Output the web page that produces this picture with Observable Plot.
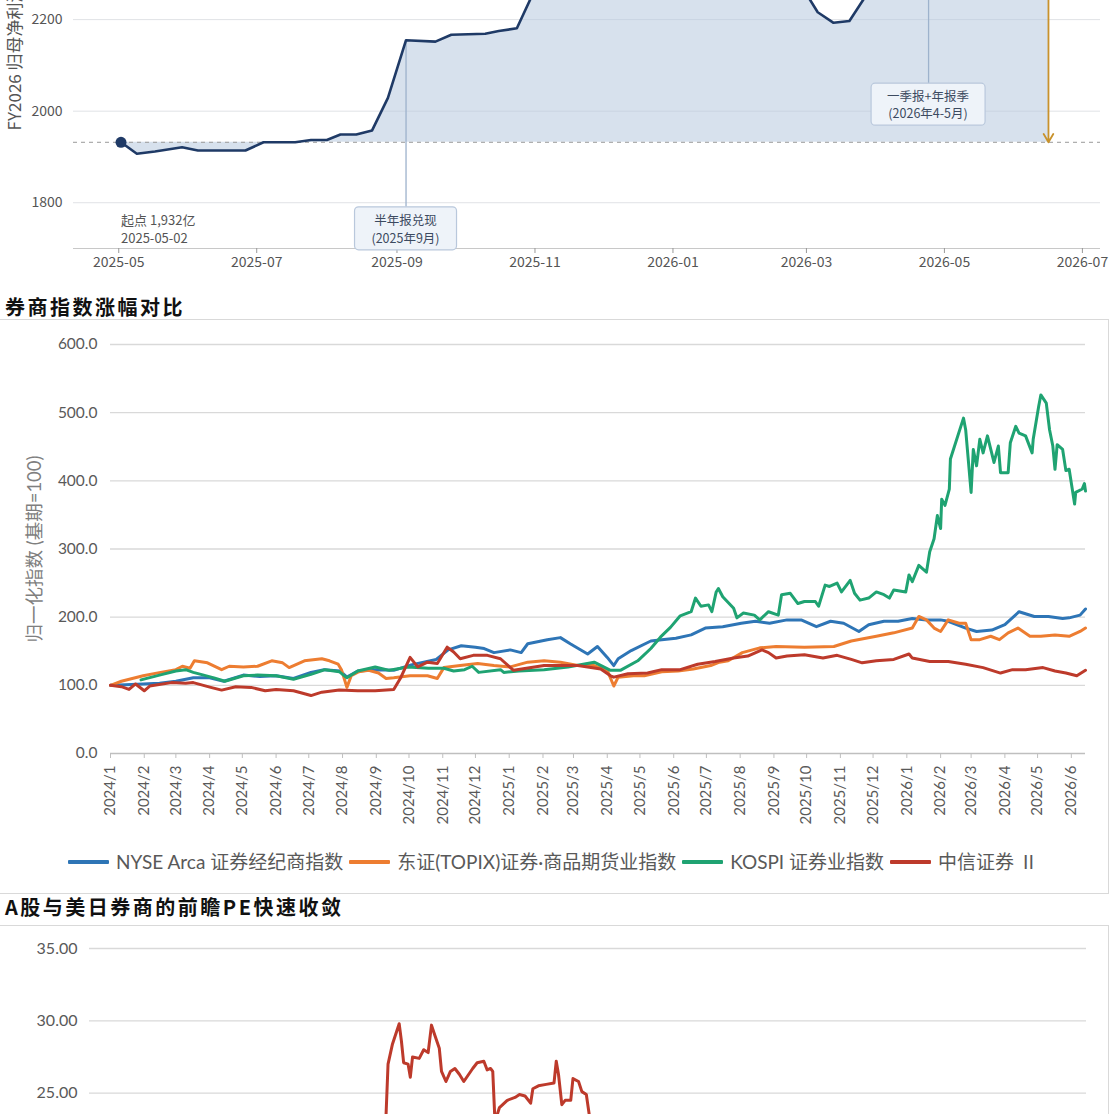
<!DOCTYPE html>
<html><head><meta charset="utf-8">
<script src="https://cdn.jsdelivr.net/npm/d3@7"></script>
<script src="https://cdn.jsdelivr.net/npm/@observablehq/plot@0.6"></script>
<style>
html,body{margin:0;padding:0;background:#fff;}
#root{position:relative;width:1114px;height:1114px;overflow:hidden;background:#fff;}
.title{position:absolute;left:5px;font-family:"Noto Sans CJK SC",sans-serif;font-weight:700;font-size:20px;letter-spacing:2.5px;color:#111;line-height:1;white-space:nowrap;}
.box{position:absolute;border:1.5px solid #d9d9d9;box-sizing:border-box;}
</style></head>
<body><div id="root"></div>
<script>
// ---------- Chart 1: FY2026 归母净利润一致预期 ----------
const fyDates = ["2025-05-02","2025-05-09","2025-05-17","2025-05-29","2025-06-05","2025-06-26","2025-07-04","2025-07-18","2025-07-25","2025-08-01","2025-08-07","2025-08-14","2025-08-21","2025-08-28","2025-09-05","2025-09-18","2025-09-25","2025-10-10","2025-10-16","2025-10-24","2025-10-30","2025-11-06","2025-11-13","2025-11-20","2025-11-27","2025-12-04","2025-12-11","2025-12-18","2025-12-25","2026-01-01","2026-01-08","2026-01-15","2026-01-22","2026-01-29","2026-02-05","2026-02-12","2026-02-19","2026-02-27","2026-03-06","2026-03-13","2026-03-20","2026-03-27","2026-04-03","2026-04-10","2026-04-17","2026-04-24","2026-05-01","2026-05-08","2026-05-15","2026-05-22","2026-05-29","2026-06-05","2026-06-12","2026-06-16"];
const fyValues = [1932,1907,1912,1921,1914,1914,1932,1932,1937,1937,1949,1949,1958,2029,2155,2152,2167,2169,2175,2181,2245,2295,2320,2335,2340,2345,2350,2352,2355,2358,2362,2365,2368,2370,2368,2360,2345,2272,2216,2193,2197,2250,2292,2330,2360,2380,2400,2415,2425,2432,2438,2442,2446,2450];
const fyBase = 1932;
const fyYTicks = [1800, 2000, 2200];
const fyXTicks = ["2025-05-01","2025-07-01","2025-09-01","2025-11-01","2026-01-01","2026-03-01","2026-05-01","2026-07-01"];
const fyEventDates = ["2025-09-05","2026-04-24"];
const fyEventLabels = [["半年报兑现","(2025年9月)"],["一季报+年报季","(2026年4-5月)"]];
const fyAxisLabel = "FY2026 归母净利润一致预期（亿元）";

// ---------- Chart 2: 券商指数涨幅对比 ----------
const brokerNames = ["NYSE Arca 证券经纪商指数","东证(TOPIX)证券·商品期货业指数","KOSPI 证券业指数","中信证券 Ⅱ"];
const brokerColors = ["#2e75b6","#ed7d31","#1fa372","#bd3a2b"];
const nyseArca = [["2024-01-01",100],["2024-01-15",101],["2024-01-31",102],["2024-02-15",103],["2024-03-01",106],["2024-03-17",111],["2024-04-01",111],["2024-04-14",106],["2024-05-02",115],["2024-05-17",113],["2024-06-01",114],["2024-06-17",110],["2024-07-03",119],["2024-07-15",123],["2024-07-30",121],["2024-08-05",112],["2024-08-15",121],["2024-09-01",123],["2024-09-17",122],["2024-10-03",130],["2024-10-26",138],["2024-11-06",152],["2024-11-18",158],["2024-12-01",156],["2024-12-09",154],["2024-12-18",148],["2025-01-02",152],["2025-01-12",148],["2025-01-18",161],["2025-02-05",167],["2025-02-17",170],["2025-02-26",161],["2025-03-14",146],["2025-03-23",157],["2025-04-01",141],["2025-04-07",129],["2025-04-11",139],["2025-04-23",151],["2025-05-11",165],["2025-05-21",167],["2025-06-03",169],["2025-06-17",174],["2025-06-30",184],["2025-07-16",186],["2025-08-02",191],["2025-08-15",194],["2025-08-28",191],["2025-09-13",196],["2025-09-26",196],["2025-10-10",186],["2025-10-23",194],["2025-11-04",191],["2025-11-18",179],["2025-11-27",189],["2025-12-11",194],["2025-12-24",194],["2026-01-06",198],["2026-01-19",196],["2026-02-01",196],["2026-02-08",194],["2026-02-24",184],["2026-03-06",179],["2026-03-20",181],["2026-04-01",189],["2026-04-14",208],["2026-04-28",201],["2026-05-11",201],["2026-05-24",198],["2026-05-30",199],["2026-06-09",203],["2026-06-14",212]];
const topixSec = [["2024-01-01",100],["2024-01-11",106],["2024-01-31",114],["2024-02-16",119],["2024-03-01",123],["2024-03-07",128],["2024-03-14",125],["2024-03-18",136],["2024-03-30",133],["2024-04-12",123],["2024-04-19",128],["2024-05-02",127],["2024-05-15",128],["2024-05-28",136],["2024-06-07",133],["2024-06-13",126],["2024-06-27",136],["2024-07-13",139],["2024-07-20",136],["2024-07-28",131],["2024-07-31",123],["2024-08-05",97],["2024-08-09",114],["2024-08-16",120],["2024-08-25",122],["2024-09-03",118],["2024-09-10",110],["2024-09-17",111],["2024-10-02",114],["2024-10-18",114],["2024-10-27",110],["2024-11-02",126],["2024-11-17",129],["2024-12-03",132],["2024-12-18",129],["2025-01-02",127],["2025-01-18",134],["2025-02-02",136],["2025-02-17",134],["2025-03-05",129],["2025-03-20",129],["2025-04-01",122],["2025-04-07",99],["2025-04-11",112],["2025-04-25",114],["2025-05-05",114],["2025-05-21",120],["2025-06-05",121],["2025-06-19",124],["2025-07-05",129],["2025-07-13",134],["2025-07-21",136],["2025-08-03",148],["2025-08-19",155],["2025-09-03",157],["2025-09-29",156],["2025-10-26",157],["2025-11-11",165],["2025-12-04",172],["2025-12-20",177],["2026-01-06",184],["2026-01-12",201],["2026-01-19",196],["2026-01-26",184],["2026-02-01",179],["2026-02-08",196],["2026-02-18",191],["2026-02-24",191],["2026-03-01",167],["2026-03-09",167],["2026-03-19",172],["2026-03-27",167],["2026-04-04",177],["2026-04-13",184],["2026-04-24",172],["2026-05-04",172],["2026-05-17",174],["2026-05-30",172],["2026-06-09",179],["2026-06-14",184]];
const kospiSec = [["2024-01-29",108],["2024-02-15",115],["2024-03-01",121],["2024-03-10",123],["2024-03-17",119],["2024-04-05",111],["2024-04-15",106],["2024-05-02",114],["2024-05-15",115],["2024-06-01",114],["2024-06-17",109],["2024-07-03",116],["2024-07-16",123],["2024-07-29",120],["2024-08-05",111],["2024-08-15",121],["2024-08-31",127],["2024-09-13",122],["2024-09-30",127],["2024-10-19",125],["2024-11-02",125],["2024-11-11",121],["2024-11-21",123],["2024-11-28",128],["2024-12-04",119],["2024-12-24",123],["2024-12-27",119],["2025-01-10",121],["2025-02-02",123],["2025-02-24",127],["2025-03-20",134],["2025-04-04",122],["2025-04-13",122],["2025-04-29",136],["2025-05-11",154],["2025-05-20",171],["2025-05-29",185],["2025-06-07",202],["2025-06-17",208],["2025-06-21",228],["2025-06-26",216],["2025-07-03",218],["2025-07-06",208],["2025-07-10",237],["2025-07-12",242],["2025-07-16",230],["2025-07-26",213],["2025-07-29",199],["2025-08-04",206],["2025-08-14",203],["2025-08-19",196],["2025-08-27",208],["2025-09-05",203],["2025-09-08",233],["2025-09-16",235],["2025-09-23",220],["2025-09-29",223],["2025-10-09",223],["2025-10-12",216],["2025-10-18",247],["2025-10-22",245],["2025-10-29",250],["2025-11-02",237],["2025-11-10",254],["2025-11-14",235],["2025-11-19",225],["2025-11-27",228],["2025-12-04",237],["2025-12-11",233],["2025-12-16",228],["2025-12-20",240],["2025-12-31",237],["2026-01-03",262],["2026-01-06",252],["2026-01-12",276],["2026-01-19",266],["2026-01-22",296],["2026-01-26",315],["2026-01-29",349],["2026-02-01",330],["2026-02-02",373],["2026-02-05",364],["2026-02-09",388],["2026-02-10",432],["2026-02-22",492],["2026-02-24",475],["2026-03-01",383],["2026-03-03",446],["2026-03-06",422],["2026-03-09",461],["2026-03-12",441],["2026-03-16",466],["2026-03-22",427],["2026-03-26",451],["2026-03-28",412],["2026-04-04",412],["2026-04-06",456],["2026-04-11",480],["2026-04-14",470],["2026-04-20",466],["2026-04-26",441],["2026-04-27",461],["2026-05-02",509],["2026-05-04",526],["2026-05-09",514],["2026-05-12",475],["2026-05-15",451],["2026-05-17",417],["2026-05-19",453],["2026-05-24",446],["2026-05-27",415],["2026-05-30",417],["2026-06-04",366],["2026-06-05",383],["2026-06-11",388],["2026-06-13",396],["2026-06-14",385]];
const citicSec = [["2024-01-01",100],["2024-01-11",98],["2024-01-18",94],["2024-01-24",102],["2024-02-01",92],["2024-02-06",99],["2024-02-26",104],["2024-03-10",103],["2024-03-17",104],["2024-04-02",97],["2024-04-12",93],["2024-04-25",98],["2024-05-09",97],["2024-05-22",92],["2024-06-01",94],["2024-06-17",92],["2024-07-03",85],["2024-07-13",90],["2024-07-29",93],["2024-08-15",92],["2024-08-31",92],["2024-09-17",94],["2024-09-23",110],["2024-10-02",141],["2024-10-09",127],["2024-10-18",134],["2024-10-27",132],["2024-11-05",156],["2024-11-11",149],["2024-11-17",139],["2024-11-29",144],["2024-12-12",144],["2024-12-24",139],["2025-01-05",122],["2025-02-02",129],["2025-03-05",129],["2025-03-26",124],["2025-04-04",114],["2025-04-07",112],["2025-04-20",117],["2025-05-08",118],["2025-05-21",123],["2025-06-07",123],["2025-06-23",131],["2025-07-09",135],["2025-07-26",140],["2025-08-08",143],["2025-08-21",152],["2025-08-27",148],["2025-09-03",140],["2025-09-13",143],["2025-09-29",145],["2025-10-16",140],["2025-10-29",144],["2025-11-11",138],["2025-11-21",133],["2025-12-04",136],["2025-12-20",138],["2026-01-03",146],["2026-01-06",140],["2026-01-22",135],["2026-02-08",135],["2026-02-24",131],["2026-03-12",126],["2026-03-28",118],["2026-04-08",123],["2026-04-20",123],["2026-05-06",126],["2026-05-17",121],["2026-05-27",118],["2026-06-06",114],["2026-06-14",122]];
const brokerYTicks = [0,100,200,300,400,500,600];
const brokerAxisLabel = "归一化指数 (基期=100)";

// ---------- Chart 3: A股与美日券商的前瞻PE ----------
const aSharePE = [["2024-01-02",17.5],["2024-03-01",18.2],["2024-05-06",17.6],["2024-07-01",16.8],["2024-09-13",15.9],["2024-09-20",17.2],["2024-09-25",27.0],["2024-09-29",28.4],["2024-10-05",29.8],["2024-10-07",28.6],["2024-10-09",27.1],["2024-10-13",27.0],["2024-10-15",26.1],["2024-10-17",27.5],["2024-10-23",27.4],["2024-10-27",28.0],["2024-10-31",27.8],["2024-11-03",29.7],["2024-11-06",29.0],["2024-11-10",28.1],["2024-11-12",26.5],["2024-11-16",25.8],["2024-11-20",26.5],["2024-11-24",26.7],["2024-11-28",26.3],["2024-12-02",25.8],["2024-12-10",26.7],["2024-12-14",27.1],["2024-12-20",27.2],["2024-12-23",26.6],["2024-12-26",26.7],["2024-12-28",26.5],["2024-12-30",23.0],["2025-01-03",24.0],["2025-01-10",24.5],["2025-01-17",24.7],["2025-01-21",24.9],["2025-01-26",24.8],["2025-01-31",24.3],["2025-02-02",25.3],["2025-02-07",25.5],["2025-02-14",25.6],["2025-02-21",25.7],["2025-02-23",27.2],["2025-02-25",26.3],["2025-02-28",24.2],["2025-03-03",24.5],["2025-03-08",24.5],["2025-03-10",26.0],["2025-03-15",25.8],["2025-03-18",25.1],["2025-03-22",24.9],["2025-03-25",23.3],["2025-03-30",21.0],["2025-05-06",20.2],["2025-07-01",21.0],["2025-09-01",22.0],["2025-12-01",19.5],["2026-03-02",17.8],["2026-06-12",16.5]];
const peYTicks = [25,30,35];

const root = document.getElementById("root");
function place(el, left, top) { el.style.position = "absolute"; el.style.left = left + "px"; el.style.top = top + "px"; root.appendChild(el); return el; }
function addDiv(cls, text, left, top, extra) { const d = document.createElement("div"); d.className = cls; if (text) d.textContent = text; Object.assign(d.style, extra || {}); return place(d, left, top); }

// ===== Chart 1 =====
const fyData = fyDates.map((d, i) => ({date: new Date(d), value: fyValues[i]}));
const fyLast = fyData[fyData.length - 1];
const valueAt = (ds) => { const t = +new Date(ds); return fyData.reduce((a, b) => Math.abs(+b.date - t) < Math.abs(+a.date - t) ? b : a).value; };
const navy = "#1f3a66";
const c1 = Plot.plot({
  width: 1114, height: 460, marginTop: 10, marginRight: 14, marginBottom: 38, marginLeft: 73,
  style: {fontFamily: '"Noto Sans CJK SC", sans-serif', fontSize: "14px", color: "#555", background: "none", overflow: "visible"},
  x: {type: "utc", domain: [new Date("2025-04-11"), new Date("2026-07-09")], label: null},
  y: {domain: [1700, 2600], label: null},
  marks: [
    Plot.gridY(fyYTicks, {stroke: "#e0e2e6", strokeOpacity: 1}),
    Plot.areaY(fyData, {x: "date", y1: fyBase, y2: "value", fill: "#b7c8de", fillOpacity: 0.55}),
    Plot.ruleY([fyBase], {stroke: "#9a9a9a", strokeDasharray: "4,4", strokeWidth: 1}),
    Plot.ruleY([1700], {stroke: "#c8c8c8", strokeWidth: 1.2}),
    Plot.axisY(fyYTicks, {tickSize: 0, tickPadding: 11, tickFormat: d => String(d), fill: "#555", fontSize: 14}),
    Plot.axisX(fyXTicks.map(d => new Date(d)), {tickSize: 5, tickPadding: 4, tickFormat: d3.utcFormat("%Y-%m"), stroke: "#999", fill: "#555", fontSize: 14}),
    Plot.ruleX([fyEventDates[0]], {x: d => new Date(d), y1: valueAt(fyEventDates[0]), y2: 1790, stroke: "#9db2cc", strokeWidth: 1.3}),
    Plot.ruleX([fyEventDates[1]], {x: d => new Date(d), y1: valueAt(fyEventDates[1]), y2: 2060, stroke: "#9db2cc", strokeWidth: 1.3}),
    Plot.line(fyData, {x: "date", y: "value", stroke: navy, strokeWidth: 2.6}),
    Plot.dot([fyData[0]], {x: "date", y: "value", r: 5.5, fill: navy}),
    Plot.arrow([fyLast], {x: "date", y1: "value", y2: fyBase, stroke: "#c8922c", strokeWidth: 1.8, headLength: 8}),
    Plot.text([fyData[0]], {x: "date", y: 1744, text: d => `起点 ${d3.format(",")(d.value)}亿\n${d3.utcFormat("%Y-%m-%d")(d.date)}`, textAnchor: "start", lineHeight: 1.4, fontSize: 13, fill: "#555"}),
    Plot.text([fyAxisLabel], {frameAnchor: "left", y: 1958, rotate: -90, textAnchor: "start", dx: -58, fontSize: 17, fill: "#555"})
  ]
});
place(c1, 0, -174);
{
  const sx = c1.scale("x"), sy = c1.scale("y");
  const svg = d3.select(c1);
  const notes = [{top: 1790, w: 102, h: 43}, {top: 2060, w: 114, h: 42}];
  fyEventDates.forEach((ds, i) => {
    const cx = sx.apply(new Date(ds)), top = sy.apply(notes[i].top);
    const g = svg.append("g").attr("font-family", '"Noto Sans CJK SC", sans-serif');
    g.append("rect").attr("x", cx - notes[i].w / 2).attr("y", top).attr("width", notes[i].w).attr("height", notes[i].h)
      .attr("rx", 4).attr("fill", "#eef3f9").attr("stroke", "#b9c8dc").attr("stroke-width", 1.2);
    fyEventLabels[i].forEach((t, j) => {
      g.append("text").attr("x", cx).attr("y", top + notes[i].h / 2 + (j - 0.5) * 17.5)
        .attr("text-anchor", "middle").attr("dominant-baseline", "central").attr("font-size", 12.5).attr("fill", "#3c4a60").text(t);
    });
  });
}

// ===== Chart 2 =====
addDiv("title", "券商指数涨幅对比", 5, 297);
addDiv("box", "", -2, 319, {width: "1111px", height: "575px"});
const brokerRows = [nyseArca, topixSec, kospiSec, citicSec].flatMap((arr, i) => arr.map(([d, v]) => ({name: brokerNames[i], date: new Date(d), value: v})));
const brokerMonths = d3.utcMonths(new Date("2024-01-01"), new Date("2026-06-02"));
const c2 = Plot.plot({
  width: 1114, height: 513, marginTop: 24, marginRight: 29, marginBottom: 80, marginLeft: 110,
  style: {fontFamily: 'Lato, "Noto Sans CJK SC", sans-serif', fontSize: "15px", color: "#595959", background: "none", overflow: "visible"},
  x: {type: "utc", domain: [new Date("2024-01-01"), new Date("2026-06-14")], label: null},
  y: {domain: [0, 600], label: null},
  color: {domain: brokerNames, range: brokerColors},
  marks: [
    Plot.gridY(brokerYTicks.slice(1), {stroke: "#d9d9d9", strokeOpacity: 1, strokeWidth: 1.3}),
    Plot.ruleY([0], {stroke: "#bfbfbf", strokeWidth: 1.4}),
    Plot.axisY(brokerYTicks, {tickSize: 0, tickPadding: 13, tickFormat: d3.format(".1f"), fill: "#595959", fontSize: 15.5}),
    Plot.axisX(brokerMonths, {tickSize: 5, tickPadding: 7, tickRotate: -90, tickFormat: d => `${d.getUTCFullYear()}/${d.getUTCMonth() + 1}`, stroke: "#bfbfbf", fill: "#595959", fontSize: 15}),
    Plot.line(brokerRows, {x: "date", y: "value", z: "name", stroke: "name", strokeWidth: 3}),
    Plot.text([brokerAxisLabel], {frameAnchor: "left", rotate: -90, textAnchor: "middle", dx: -75, fontSize: 18.5, fill: "#7f7f7f"})
  ]
});
place(c2, 0, 320);
{
  const lg = document.createElement("div");
  Object.assign(lg.style, {display: "flex", alignItems: "center", fontFamily: 'Lato, "Noto Sans CJK SC", sans-serif', fontSize: "19px", color: "#595959", whiteSpace: "nowrap", lineHeight: "22px"});
  brokerNames.forEach((n, i) => {
    const it = document.createElement("div");
    Object.assign(it.style, {display: "flex", alignItems: "center", marginRight: "6px"});
    const sw = document.createElement("span");
    Object.assign(sw.style, {display: "inline-block", width: "41px", height: "4px", background: brokerColors[i], marginRight: "7px", borderRadius: "1px"});
    const tx = document.createElement("span"); tx.textContent = n;
    it.appendChild(sw); it.appendChild(tx); lg.appendChild(it);
  });
  place(lg, 68, 851);
}

// ===== Chart 3 =====
addDiv("title", "A股与美日券商的前瞻PE快速收敛", 5, 897);
addDiv("box", "", -2, 925, {width: "1111px", height: "400px"});
const peData = aSharePE.map(([d, v]) => ({date: new Date(d), value: v}));
const c3 = Plot.plot({
  width: 1114, height: 600, marginTop: 23, marginRight: 28, marginBottom: 71, marginLeft: 89,
  style: {fontFamily: 'Lato, "Noto Sans CJK SC", sans-serif', fontSize: "16px", color: "#595959", background: "none", overflow: "visible"},
  x: {type: "utc", domain: [new Date("2024-01-01"), new Date("2026-06-14")], label: null, axis: null},
  y: {domain: [0, 35], label: null},
  marks: [
    Plot.gridY(peYTicks, {stroke: "#d9d9d9", strokeOpacity: 1, strokeWidth: 1.3}),
    Plot.axisY(peYTicks, {tickSize: 0, tickPadding: 12, tickFormat: d3.format(".2f"), fill: "#595959", fontSize: 16}),
    Plot.line(peData, {x: "date", y: "value", stroke: "#bd3a2b", strokeWidth: 3})
  ]
});
place(c3, 0, 925);
</script>
</body></html>
